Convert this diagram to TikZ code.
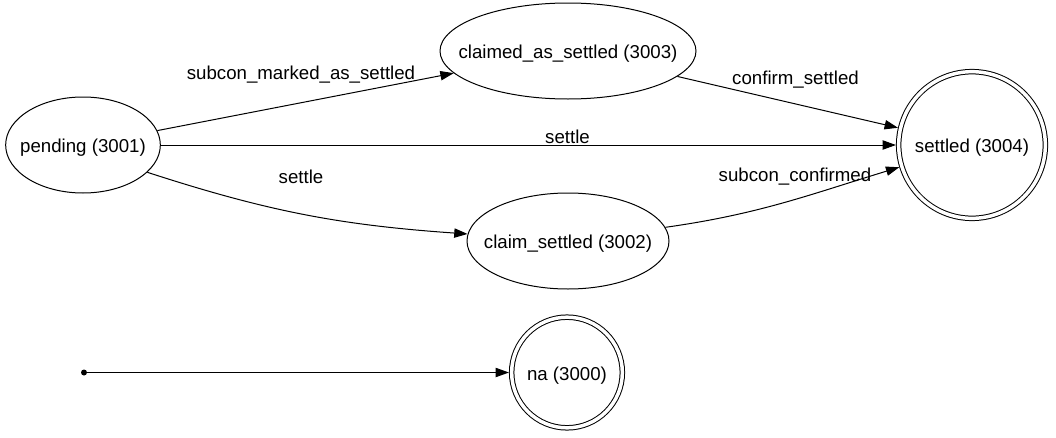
\documentclass[tikz,border=0pt]{standalone}
\usepackage{fontspec}
\setmainfont{Liberation Sans}
\usetikzlibrary{shapes.geometric, arrows.meta}
\tikzset{
    state/.style={ellipse, draw, line width=0.75pt, minimum height=72pt, inner xsep=-15pt, text height=12.3pt, text depth=0.8pt, text centered},
    final/.style={circle, draw, line width=0.75pt, double, double distance=2.6pt, outer sep=2.05pt, inner sep=0pt, text height=12.3pt, text depth=0.8pt, text centered},
    trans/.style={-{Triangle[length=10pt, width=7pt]}, line width=0.75pt},
    lbl/.style={inner sep=0pt}
}
\begin{document}
\begin{tikzpicture}[
    x=0.75pt, y=0.75pt,
    font=\fontsize{14pt}{16pt}\selectfont
]
    \useasboundingbox (0,0) rectangle (1056,437);
    % States
    \node[state, minimum width=116pt] (pending) at (83,292) {pending (3001)};
    \node[state, minimum width=192pt] (claimed) at (568,386) {claimed\_as\_settled (3003)};
    \node[state, minimum width=151.5pt] (claim) at (568,196) {claim\_settled (3002)};
    \node[final, minimum size=110pt] (settled) at (972,292) {settled (3004)};
    \node[final, minimum size=83pt] (na) at (567,64.5) {na (3000)};
    \node[circle, fill, inner sep=0pt, minimum size=4.5pt] (start) at (84,64.5) {};

    % Transitions
    \draw[trans] (pending) -- (claimed);
    \draw[trans] (claimed) -- (settled);
    \draw[trans] (pending) -- (settled);
    \draw[trans] (pending.-23) to[out=-18, in=176] (claim);
    \draw[trans] (claim) to[out=8, in=197] (settled);
    \draw[trans] (start) -- (na);

    % Labels
    \node[lbl] (l-marked) at (301,362.5) {subcon\_marked\_as\_settled};
    \node[lbl] (l-confirm) at (795.5,357) {confirm\_settled};
    \node[lbl] (l-settle1) at (567.5,300) {settle};
    \node[lbl] (l-settle2) at (301,260) {settle};
    \node[lbl] (l-subcon) at (795,260) {subcon\_confirmed};
\end{tikzpicture}
\end{document}
